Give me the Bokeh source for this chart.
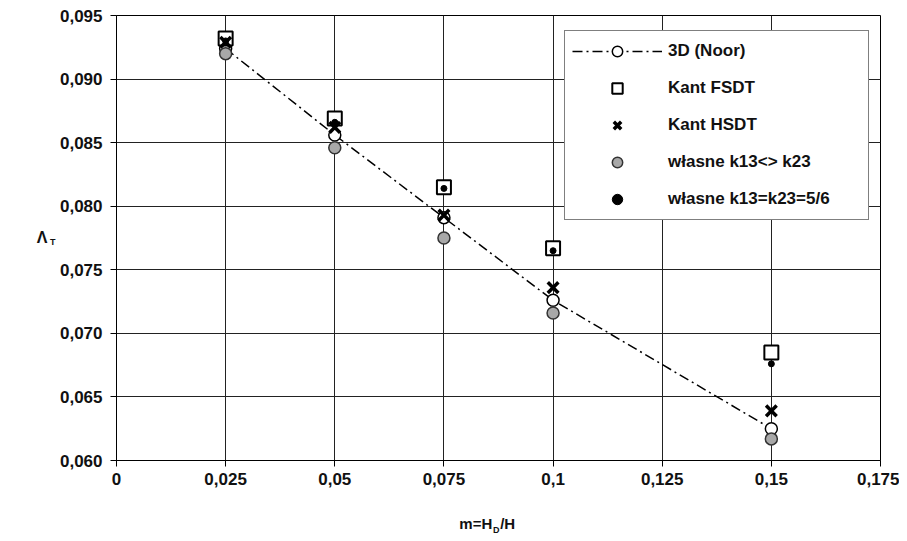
from bokeh.plotting import figure
from bokeh.models import (FixedTicker, CustomJSTickFormatter, Legend, LegendItem,
                          LinearAxis, Range1d)
from bokeh.embed import file_html
from bokeh.resources import INLINE

# ---- data ----
m_vals = [0.025, 0.05, 0.075, 0.1, 0.15]
noor_3d = [0.0924, 0.0856, 0.0791, 0.0726, 0.0625]
kant_fsdt = [0.0932, 0.0869, 0.0815, 0.0767, 0.0685]
kant_hsdt = [0.0929, 0.0862, 0.0793, 0.0736, 0.0639]
wlasne_k13_ne_k23 = [0.0920, 0.0846, 0.0775, 0.0716, 0.0617]
wlasne_k13_eq_k23 = [0.0930, 0.0866, 0.0814, 0.0765, 0.0676]

x_ticks = [0, 0.025, 0.05, 0.075, 0.1, 0.125, 0.15, 0.175]
y_ticks = [0.060, 0.065, 0.070, 0.075, 0.080, 0.085, 0.090, 0.095]

series_labels = ["3D (Noor)", "Kant FSDT", "Kant HSDT",
                 "własne k13<> k23", "własne k13=k23=5/6"]

# axis titles, split into main text and subscript parts
x_title_parts = ["m=H", "/H"]
x_title_sub = "D"
y_title_main = "Λ"
y_title_sub = "T"

FONT = "Liberation Sans"

p = figure(width=899, height=541,
           x_range=Range1d(0, 0.175), y_range=Range1d(0.060, 0.095),
           output_backend="svg", toolbar_location=None,
           min_border_left=116, min_border_right=19,
           min_border_top=15, min_border_bottom=81)

p.background_fill_color = "white"
p.border_fill_color = "white"
p.outline_line_color = "black"
p.outline_line_width = 1

p.xaxis.ticker = FixedTicker(ticks=x_ticks)
p.yaxis.ticker = FixedTicker(ticks=y_ticks)
p.xaxis.formatter = CustomJSTickFormatter(
    code="return parseFloat(tick.toFixed(3)).toString().replace('.', ',');")
p.yaxis.formatter = CustomJSTickFormatter(
    code="return tick.toFixed(3).replace('.', ',');")

for ax in (p.xaxis, p.yaxis):
    ax.axis_line_color = "black"
    ax.major_tick_line_color = "black"
    ax.major_tick_in = 0
    ax.major_tick_out = 6
    ax.minor_tick_line_color = None
    ax.major_label_text_font = FONT
    ax.major_label_text_font_style = "bold"
    ax.major_label_text_font_size = "17px"
    ax.major_label_text_color = "#111111"
p.xaxis.major_label_standoff = 6
p.yaxis.major_label_standoff = 8

p.grid.grid_line_color = "#222222"
p.grid.grid_line_width = 1
p.grid.grid_line_alpha = 1

# ---- glyphs ----
noor_line = p.line(m_vals, noor_3d, line_color="black", line_width=1.5,
                   line_dash="10 4 2 4")
noor_pts = p.scatter(m_vals, noor_3d, marker="circle", size=12,
                     fill_color="white", line_color="black", line_width=1.5)
fsdt = p.scatter(m_vals, kant_fsdt, marker="square", size=14,
                 fill_color="white", line_color="black", line_width=2)
hsdt = p.scatter(m_vals, kant_hsdt, marker="x", size=15,
                 line_color="black", line_width=3.5)
own1 = p.scatter(m_vals, wlasne_k13_ne_k23, marker="circle", size=12,
                 fill_color="#a8a8a8", line_color="#333333", line_width=1.5)
own2 = p.scatter(m_vals, wlasne_k13_eq_k23, marker="circle", size=6,
                 fill_color="black", line_color="black")

legend = Legend(items=[
    LegendItem(label=series_labels[0], renderers=[noor_line, noor_pts]),
    LegendItem(label=series_labels[1], renderers=[fsdt]),
    LegendItem(label=series_labels[2], renderers=[hsdt]),
    LegendItem(label=series_labels[3], renderers=[own1]),
    LegendItem(label=series_labels[4], renderers=[own2]),
], location=(448, 240), glyph_width=90, glyph_height=26, label_height=20,
    label_width=193, label_standoff=6, spacing=11, padding=7, margin=0,
    border_line_color="black", border_line_width=1,
    background_fill_color="white", background_fill_alpha=1,
    label_text_font=FONT, label_text_font_style="bold",
    label_text_font_size="17px", label_text_color="#111111")
p.add_layout(legend)


# ---- axis titles built from label-only axes (horizontal text + subscripts) ----
def title_axis(ticks, texts, size, standoff):
    ax = LinearAxis(ticker=FixedTicker(ticks=ticks),
                    formatter=CustomJSTickFormatter(
                        args=dict(texts=texts), code="return texts[index];"))
    ax.axis_line_color = None
    ax.major_tick_line_color = None
    ax.minor_tick_line_color = None
    ax.major_tick_in = 0
    ax.major_tick_out = 0
    ax.minor_tick_in = 0
    ax.minor_tick_out = 0
    ax.major_label_standoff = standoff
    ax.major_label_text_font = FONT
    ax.major_label_text_font_style = "bold"
    ax.major_label_text_font_size = size
    ax.major_label_text_color = "#111111"
    return ax

# x title: "m=H" + subscript "D" + "/H"
p.add_layout(title_axis([0.0823, 0.0896], x_title_parts, "15px", 27), "below")
p.add_layout(title_axis([0.0870], [x_title_sub], "9px", -10), "below")

# y title: "Λ" with subscript "T"
p.add_layout(title_axis([0.07722], [y_title_sub], "9px", 1), "left")
p.add_layout(title_axis([0.07754], [y_title_main], "16px", 0), "left")

open("out.html", "w").write(file_html(p, INLINE))
